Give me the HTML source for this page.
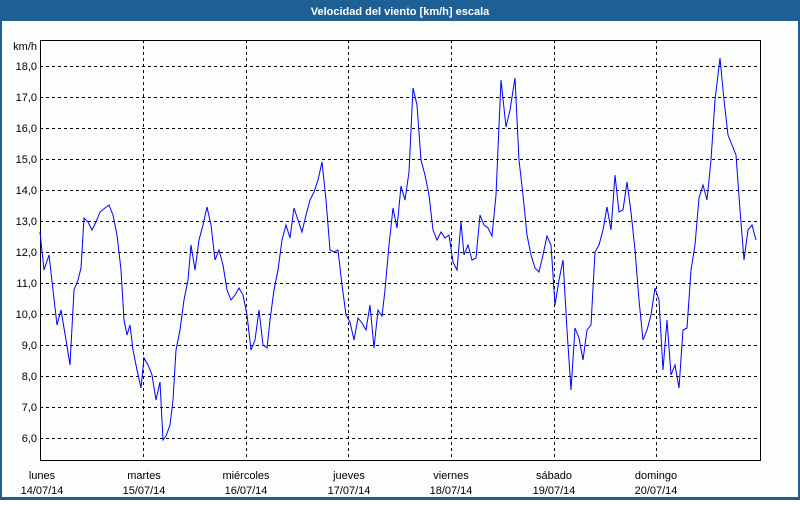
<!DOCTYPE html>
<html><head><meta charset="utf-8"><style>
body{margin:0;width:800px;height:500px;overflow:hidden;background:#fff;font-family:"Liberation Sans",sans-serif}
</style></head><body>
<svg width="800" height="500" xmlns="http://www.w3.org/2000/svg" font-family="Liberation Sans, sans-serif" font-size="11">
<rect x="0" y="0" width="800" height="500" fill="#1e5f96"/>
<rect x="2" y="21" width="796" height="476" fill="#fcfdfd"/>
<text x="400" y="15" fill="#fff" font-weight="bold" text-anchor="middle">Velocidad del viento [km/h] escala</text>
<g stroke="#000" stroke-dasharray="3,3" stroke-width="1">
<line x1="40" x2="760" y1="66.5" y2="66.5"/><line x1="40" x2="760" y1="97.5" y2="97.5"/>
<line x1="40" x2="760" y1="128.5" y2="128.5"/><line x1="40" x2="760" y1="159.5" y2="159.5"/>
<line x1="40" x2="760" y1="190.5" y2="190.5"/><line x1="40" x2="760" y1="221.5" y2="221.5"/>
<line x1="40" x2="760" y1="252.5" y2="252.5"/><line x1="40" x2="760" y1="283.5" y2="283.5"/>
<line x1="40" x2="760" y1="314.5" y2="314.5"/><line x1="40" x2="760" y1="345.5" y2="345.5"/>
<line x1="40" x2="760" y1="376.5" y2="376.5"/><line x1="40" x2="760" y1="407.5" y2="407.5"/>
<line x1="40" x2="760" y1="438.5" y2="438.5"/>
<line x1="143.5" x2="143.5" y1="40" y2="460"/><line x1="246.5" x2="246.5" y1="40" y2="460"/>
<line x1="348.5" x2="348.5" y1="40" y2="460"/><line x1="451.5" x2="451.5" y1="40" y2="460"/>
<line x1="554.5" x2="554.5" y1="40" y2="460"/><line x1="656.5" x2="656.5" y1="40" y2="460"/>
</g>
<path d="M40.5 460.5V40.5H760.5V460.5H40" fill="none" stroke="#000"/>
<g text-anchor="end" fill="#000">
<text x="37" y="50">km/h</text>
<text x="37" y="70">18,0</text><text x="37" y="101">17,0</text><text x="37" y="132">16,0</text>
<text x="37" y="163">15,0</text><text x="37" y="194">14,0</text><text x="37" y="225">13,0</text>
<text x="37" y="256">12,0</text><text x="37" y="287">11,0</text><text x="37" y="318">10,0</text>
<text x="37" y="349">9,0</text><text x="37" y="380">8,0</text><text x="37" y="411">7,0</text>
<text x="37" y="442">6,0</text>
</g>
<g text-anchor="middle" fill="#000">
<text x="42" y="479">lunes</text><text x="42" y="494">14/07/14</text>
<text x="144" y="479">martes</text><text x="144" y="494">15/07/14</text>
<text x="246" y="479">miércoles</text><text x="246" y="494">16/07/14</text>
<text x="349" y="479">jueves</text><text x="349" y="494">17/07/14</text>
<text x="451" y="479">viernes</text><text x="451" y="494">18/07/14</text>
<text x="554" y="479">sábado</text><text x="554" y="494">19/07/14</text>
<text x="656" y="479">domingo</text><text x="656" y="494">20/07/14</text>
</g>
<polyline fill="none" stroke="#0000ff" stroke-width="1" points="40,232 44,270 49,255 53,290 57,325 61,310 66,340 70,365 74,290 78,280 81,268 84,218 88,222 92,230 96,222 100,212 105,208 109,205 113,215 117,235 121,270 124,320 127,335 130,325 133,350 137,370 141,388 144,358 148,365 152,375 156,400 160,382 163,440 166,436 170,425 173,400 176,350 180,330 184,300 188,280 191,245 195,270 199,240 203,225 207,207 211,225 215,260 219,250 223,265 227,290 231,300 235,295 239,288 243,295 247,315 251,350 255,340 259,310 263,345 267,348 270,320 274,290 278,270 282,240 286,225 290,238 294,208 298,220 302,232 306,215 310,200 314,192 318,180 322,162 326,200 330,250 334,252 338,250 342,285 346,315 350,322 354,340 358,318 362,323 366,330 370,305 374,348 378,310 382,316 385,290 389,245 393,208 397,228 401,186 405,200 409,172 413,88 417,105 421,160 425,175 429,195 433,230 437,240 441,232 445,238 449,235 453,262 457,270 461,222 464,255 468,245 472,260 476,258 480,215 484,225 488,228 492,236 496,195 501,80 506,127 510,110 515,78 519,160 523,195 527,235 531,255 535,268 539,272 543,255 547,236 551,245 555,305 559,280 563,260 567,330 571,390 575,328 579,338 583,360 587,330 591,325 595,252 599,245 603,230 607,207 611,230 615,175 619,212 623,210 627,182 631,212 635,250 639,300 643,340 647,330 651,315 655,288 659,300 663,370 667,320 671,375 675,365 679,388 683,330 687,328 691,270 695,245 699,198 703,185 707,200 711,160 715,100 720,58 724,100 728,135 732,145 736,155 740,210 744,260 748,230 752,225 756,240"/>
</svg>
</body></html>
